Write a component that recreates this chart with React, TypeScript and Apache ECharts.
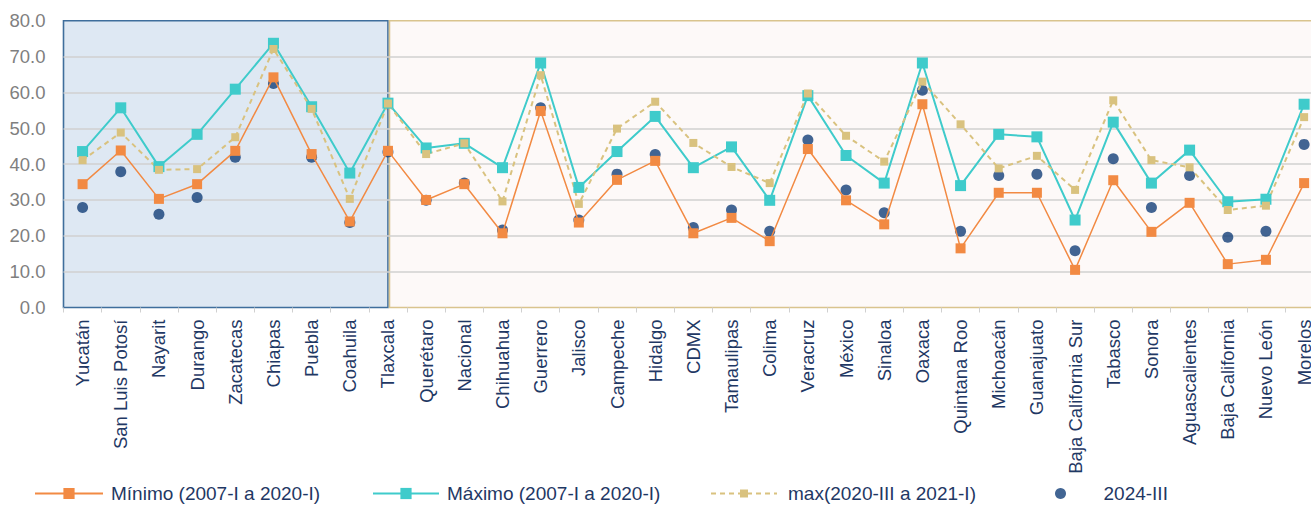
import React, { useEffect, useRef } from 'react';
import * as echarts from 'echarts';

const categories = [
  'Yucatán', 'San Luis Potosí', 'Nayarit', 'Durango', 'Zacatecas', 'Chiapas', 'Puebla', 'Coahuila',
  'Tlaxcala', 'Querétaro', 'Nacional', 'Chihuahua', 'Guerrero', 'Jalisco', 'Campeche', 'Hidalgo',
  'CDMX', 'Tamaulipas', 'Colima', 'Veracruz', 'México', 'Sinaloa', 'Oaxaca', 'Quintana Roo',
  'Michoacán', 'Guanajuato', 'Baja California Sur', 'Tabasco', 'Sonora', 'Aguascalientes',
  'Baja California', 'Nuevo León', 'Morelos',
];

const minimo = [
  34.4, 43.8, 30.3, 34.4, 43.7, 64.2, 42.8, 24.0, 43.7, 30.0, 34.4, 20.7, 54.8, 23.7, 35.6, 40.9,
  20.7, 25.0, 18.5, 44.2, 29.9, 23.2, 56.7, 16.5, 32.0, 32.0, 10.5, 35.5, 21.1, 29.2, 12.1, 13.3, 34.7,
];
const maximo = [
  43.5, 55.7, 39.3, 48.3, 60.9, 73.7, 56.0, 37.5, 57.0, 44.5, 45.8, 39.0, 68.2, 33.5, 43.5, 53.3,
  39.0, 44.8, 29.9, 59.1, 42.4, 34.7, 68.2, 34.0, 48.3, 47.6, 24.4, 51.7, 34.7, 43.9, 29.5, 30.2, 56.7,
];
const max2020 = [
  41.1, 48.8, 38.4, 38.6, 47.5, 72.1, 55.4, 30.3, 56.9, 42.8, 45.8, 29.6, 64.8, 28.9, 49.9, 57.4,
  45.9, 39.2, 34.7, 59.7, 47.9, 40.7, 63.0, 51.1, 38.8, 42.3, 32.8, 57.8, 41.1, 39.1, 27.2, 28.4, 53.1,
];
const valor2024 = [
  27.9, 37.9, 26.0, 30.7, 41.9, 62.5, 41.9, 23.7, 43.4, 29.9, 34.7, 21.6, 55.7, 24.4, 37.2, 42.7,
  22.3, 27.2, 21.3, 46.7, 32.8, 26.4, 60.6, 21.3, 36.8, 37.2, 15.8, 41.5, 27.9, 36.8, 19.6, 21.3, 45.5,
];

const seriesNames = ['Mínimo (2007-I a 2020-I)', 'Máximo (2007-I a 2020-I)', 'max(2020-III a 2021-I)', '2024-III'];
const regionSplit = 'Tlaxcala';
const yMin = 0;
const yMax = 80;
const yInterval = 10;

const FONT = '"Liberation Sans", Arial, sans-serif';

export default function App() {
  const ref = useRef<HTMLDivElement>(null);

  useEffect(() => {
    const chart = echarts.init(ref.current!, null, { renderer: 'svg' });
    const splitIdx = categories.indexOf(regionSplit);
    const lastIdx = categories.length - 1;
    const fills = ['#DEE8F3', '#FDF9F8'];
    const strokes = ['#3F6E9C', '#D9C48E'];

    const legendBase = {
      orient: 'horizontal',
      top: 484,
      padding: 0,
      selectedMode: false,
      textStyle: { color: '#1F3864', fontSize: 19, fontFamily: FONT, padding: [0, 0, 0, 3] },
    };

    chart.setOption({
      animation: false,
      grid: { left: 63.5, top: 20.7, right: 6.8, bottom: 199.5, containLabel: false },
      xAxis: {
        type: 'category',
        data: categories,
        boundaryGap: true,
        axisLine: { show: false },
        axisTick: { show: true, length: 5, lineStyle: { color: '#D0D0D0', width: 1 } },
        axisLabel: {
          rotate: 90,
          interval: 0,
          color: '#1F3864',
          fontSize: 18.5,
          fontFamily: FONT,
          margin: 12,
        },
      },
      yAxis: {
        type: 'value',
        min: yMin,
        max: yMax,
        interval: yInterval,
        axisLine: { show: false },
        axisTick: { show: false },
        axisLabel: {
          color: '#7F7F7F',
          fontSize: 18.5,
          fontFamily: FONT,
          margin: 18,
          formatter: (v: number) => v.toFixed(1),
        },
        splitLine: {
          show: true,
          showMinLine: false,
          showMaxLine: false,
          lineStyle: { color: '#D0D0D0', width: 1.5 },
        },
      },
      legend: [
        { ...legendBase, left: 34, itemWidth: 68, itemHeight: 14, data: [seriesNames[0]] },
        { ...legendBase, left: 372, itemWidth: 66, itemHeight: 14, data: [seriesNames[1]] },
        {
          ...legendBase,
          left: 710,
          itemWidth: 66,
          itemHeight: 10,
          data: [seriesNames[2]],
          textStyle: { ...legendBase.textStyle, padding: [0, 0, 0, 6] },
        },
        {
          ...legendBase,
          left: 1055,
          itemWidth: 76,
          itemHeight: 11,
          data: [seriesNames[3]],
          textStyle: { ...legendBase.textStyle, padding: 0 },
        },
      ],
      series: [
        {
          type: 'custom',
          name: 'fondo',
          silent: true,
          z: -1,
          clip: false,
          data: [
            [0, splitIdx],
            [splitIdx, lastIdx],
          ],
          renderItem: (params: any, api: any) => {
            const i0 = api.value(0);
            const i1 = api.value(1);
            const bw = api.size([1, 0])[0];
            const pa = api.coord([i0, yMax]);
            const pb = api.coord([i1, yMin]);
            const first = params.dataIndex === 0;
            const x0 = first ? pa[0] - bw / 2 : pa[0] + 1.5;
            const x1 = first ? pb[0] : pb[0] + bw / 2 + 4;
            return {
              type: 'rect',
              shape: { x: x0, y: pa[1], width: x1 - x0, height: pb[1] - pa[1] },
              style: { fill: fills[params.dataIndex], stroke: strokes[params.dataIndex], lineWidth: 1.6 },
            };
          },
        },
        {
          type: 'line',
          name: seriesNames[0],
          data: minimo,
          symbol: 'rect',
          symbolSize: 10,
          itemStyle: { color: '#F28A43' },
          lineStyle: { color: '#F28A43', width: 1.5 },
        },
        {
          type: 'line',
          name: seriesNames[1],
          data: maximo,
          symbol: 'rect',
          symbolSize: 11,
          itemStyle: { color: '#3FCBCB' },
          lineStyle: { color: '#3FCBCB', width: 2 },
        },
        {
          type: 'line',
          name: seriesNames[2],
          data: max2020,
          symbol: 'rect',
          symbolSize: 8,
          itemStyle: { color: '#D9C27F' },
          lineStyle: { color: '#D9C27F', width: 2, type: [5, 4] },
        },
        {
          type: 'scatter',
          name: seriesNames[3],
          data: valor2024,
          symbol: 'circle',
          symbolSize: 11,
          itemStyle: { color: '#133F78' },
        },
      ],
    });
    return () => chart.dispose();
  }, []);

  return (
    <div
      style={{
        position: 'absolute',
        left: 0,
        top: 0,
        width: 1311,
        height: 507,
        overflow: 'hidden',
        background: '#ffffff',
      }}
    >
      <div ref={ref} style={{ width: 1330, height: 507 }} />
    </div>
  );
}
